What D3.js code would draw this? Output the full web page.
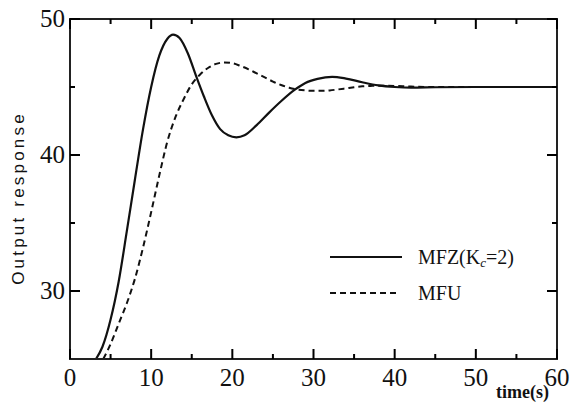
<!DOCTYPE html>
<html lang="en">
<head>
  <meta charset="UTF-8">
  <title>Output response</title>
  <script src="https://d3js.org/d3.v7.min.js"></script>
  <style>
    body { margin: 0; background: #fff; }
    text { font-family: "Liberation Serif", "Times New Roman", serif; fill: #111; }
  </style>
</head>
<body>
  <script>
    // data
    const mfzTime  = [3.2, 4, 5, 6, 7, 8, 9, 10, 11, 12, 12.7, 13.5, 14.5, 15.6, 16.5, 17.5, 18.5, 19.5, 20.5, 21.5, 23, 24.5, 26, 27.7, 29, 30.5, 32.3, 34, 36, 38, 40, 42, 45, 50, 60];
    const mfzValue = [25, 25.9, 27.9, 30.7, 34.4, 38.2, 41.9, 45.0, 47.3, 48.55, 48.85, 48.6, 47.5, 45.7, 44.3, 42.9, 41.9, 41.45, 41.3, 41.45, 42.2, 43.1, 43.95, 44.8, 45.3, 45.6, 45.75, 45.62, 45.35, 45.12, 45.0, 44.95, 44.98, 45.0, 45.0];

    const mfuTime  = [4.1, 5, 6, 7, 8, 9, 10, 11, 12, 13, 14, 15, 16, 17, 18, 19, 20, 21, 22, 23, 24, 25, 26, 27, 28, 29, 30, 31, 32, 33, 34, 35, 36, 37, 38, 40, 42, 45, 60];
    const mfuValue = [25, 26.1, 27.6, 29.1, 30.9, 33.2, 35.8, 38.5, 41.0, 42.8, 44.1, 45.2, 45.9, 46.4, 46.7, 46.8, 46.75, 46.55, 46.3, 46.0, 45.7, 45.4, 45.15, 44.95, 44.82, 44.75, 44.72, 44.72, 44.75, 44.82, 44.9, 44.98, 45.05, 45.08, 45.1, 45.08, 45.03, 45.0, 45.0];

    const xTicks = [0, 10, 20, 30, 40, 50, 60];
    const xMinor = [5, 15, 25, 35, 45, 55];
    const yTicks = [30, 40, 50];
    const yMinor = [35, 45];

    const width = 571, height = 418;
    const margin = { left: 70, right: 14, top: 19, bottom: 59 };

    const svg = d3.select("body").append("svg")
      .attr("width", width)
      .attr("height", height);

    const x = d3.scaleLinear().domain([0, 60]).range([margin.left, width - margin.right]);
    const y = d3.scaleLinear().domain([25, 50]).range([height - margin.bottom, margin.top]);

    const x0 = x(0), x1 = x(60), y0 = y(25), y1 = y(50);

    // curves
    const line = d3.line()
      .x(d => x(d[0]))
      .y(d => y(d[1]))
      .curve(d3.curveMonotoneX);

    svg.append("clipPath").attr("id", "plot")
      .append("rect").attr("x", x0).attr("y", y1).attr("width", x1 - x0).attr("height", y0 - y1);

    const plot = svg.append("g").attr("clip-path", "url(#plot)");

    plot.append("path")
      .datum(d3.zip(mfuTime, mfuValue))
      .attr("fill", "none")
      .attr("stroke", "#111")
      .attr("stroke-width", 2)
      .attr("stroke-dasharray", "6,4")
      .attr("d", line);

    plot.append("path")
      .datum(d3.zip(mfzTime, mfzValue))
      .attr("fill", "none")
      .attr("stroke", "#111")
      .attr("stroke-width", 2.2)
      .attr("d", line);

    // frame
    svg.append("rect")
      .attr("x", x0).attr("y", y1)
      .attr("width", x1 - x0).attr("height", y0 - y1)
      .attr("fill", "none").attr("stroke", "#222").attr("stroke-width", 2);

    // ticks on all four sides, pointing inward (one path)
    const p = d3.path();
    xTicks.map(v => [v, 10]).concat(xMinor.map(v => [v, 5])).forEach(([v, len]) => {
      p.moveTo(x(v), y0); p.lineTo(x(v), y0 - len);
      p.moveTo(x(v), y1); p.lineTo(x(v), y1 + len);
    });
    yTicks.map(v => [v, 10]).concat(yMinor.map(v => [v, 5])).forEach(([v, len]) => {
      p.moveTo(x0, y(v)); p.lineTo(x0 + len, y(v));
      p.moveTo(x1, y(v)); p.lineTo(x1 - len, y(v));
    });
    svg.append("path")
      .attr("d", p.toString())
      .attr("fill", "none")
      .attr("stroke", "#000")
      .attr("stroke-width", 2);

    // tick labels
    svg.append("g").selectAll("text")
      .data(xTicks).join("text")
      .attr("x", d => x(d))
      .attr("y", y0 + 27)
      .attr("text-anchor", "middle")
      .attr("font-size", 25)
      .text(d => d);

    svg.append("g").selectAll("text")
      .data(yTicks).join("text")
      .attr("x", x0 - 5)
      .attr("y", d => y(d) + 8)
      .attr("text-anchor", "end")
      .attr("font-size", 25)
      .text(d => d);

    // axis titles
    svg.append("text")
      .attr("transform", "translate(24,198) rotate(-90)")
      .attr("text-anchor", "middle")
      .attr("font-size", 17)
      .attr("letter-spacing", 3.2)
      .style("font-family", "'Liberation Sans', Arial, sans-serif")
      .text("Output response");

    svg.append("text")
      .attr("x", x1 - 8)
      .attr("y", 398)
      .attr("text-anchor", "end")
      .attr("font-size", 18)
      .attr("font-weight", "bold")
      .text("time(s)");

    // legend
    const legend = svg.append("g");
    legend.append("line")
      .attr("x1", 330).attr("x2", 402).attr("y1", 257).attr("y2", 257)
      .attr("stroke", "#111").attr("stroke-width", 2);
    const t1 = legend.append("text").attr("x", 418).attr("y", 264).attr("font-size", 20);
    t1.append("tspan").text("MFZ(K");
    t1.append("tspan").attr("font-size", 13).attr("font-style", "italic").attr("dy", 3).text("c");
    t1.append("tspan").attr("dy", -3).text("=2)");

    legend.append("line")
      .attr("x1", 330).attr("x2", 399).attr("y1", 293).attr("y2", 293)
      .attr("stroke", "#111").attr("stroke-width", 2)
      .attr("stroke-dasharray", "6,4");
    legend.append("text").attr("x", 418).attr("y", 300).attr("font-size", 20).text("MFU");
  </script>
</body>
</html>
